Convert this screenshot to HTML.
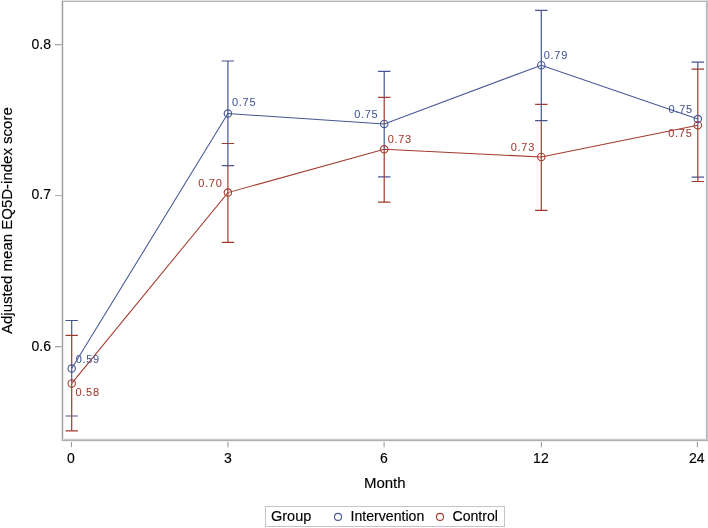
<!DOCTYPE html>
<html><head><meta charset="utf-8">
<style>
html,body{margin:0;padding:0;background:#fff;width:708px;height:528px;overflow:hidden}
svg{display:block;will-change:transform}
text{font-family:"Liberation Sans",sans-serif;fill:#000;stroke:#000;stroke-width:0.15px}
.tk{font-size:14px}
.dl text{font-size:11px;letter-spacing:0.7px;stroke-width:0.05px}
.b{fill:#445694;stroke:#445694}
.r{fill:#A23A2E;stroke:#A23A2E}
</style></head><body>
<svg width="708" height="528" viewBox="0 0 708 528">
<rect x="0" y="0" width="708" height="528" fill="#fff"/>
<g>
<rect x="-5" y="-5" width="720" height="540" fill="#fff"/>
<g fill="none" stroke="#9a9ea2" stroke-width="1.1">
<path d="M71.5 440.5 V447.3 M227.9 440.5 V447.3 M384.1 440.5 V447.3 M541.4 440.5 V447.3 M697.4 440.5 V447.3"/>
</g>
<g class="tk" text-anchor="end">
<text x="51" y="48.8">0.8</text>
<text x="51" y="199.3">0.7</text>
<text x="51" y="350.7">0.6</text>
</g>
<g class="tk" text-anchor="middle">
<text x="70.8" y="462.5">0</text>
<text x="227.8" y="462.5">3</text>
<text x="383.8" y="462.5">6</text>
<text x="540.9" y="462.5">12</text>
<text x="696.8" y="462.5">24</text>
</g>
<text x="384.8" y="487.5" text-anchor="middle" style="font-size:15px">Month</text>
<text transform="translate(11.8,220.6) rotate(-90)" text-anchor="middle" style="font-size:15px">Adjusted mean EQ5D-index score</text>
<g fill="none" stroke-width="1.2">
<path stroke="#445694" d="M65.5 320.5H77.9M65.5 416.0H77.9M221.7 61H234.1M221.7 165.6H234.1M378.0 71.4H390.4M378.0 176.9H390.4M535.1 10.3H547.5M535.1 120.6H547.5M691.6 62.2H704.0M691.6 177.1H704.0"/>
<path stroke="#A23A2E" d="M65.5 335.3H77.9M65.5 430.8H77.9M221.7 143.5H234.1M221.7 242.4H234.1M378.0 97.4H390.4M378.0 202.2H390.4M535.1 104.4H547.5M535.1 210.3H547.5M691.6 69.1H704.0M691.6 181.5H704.0"/>
<path stroke="#445694" d="M71.7 320.5V335.3M71.7 368.6V383.4M227.9 61V165.6M384.2 71.4V97.4M384.2 123.9V149.3M541.3 10.3V120.6M697.8 62.2V69.1M697.8 119.1V125.2"/>
<path stroke="#A23A2E" d="M71.7 335.3V368.6M71.7 383.4V430.8M227.9 165.6V242.4M384.2 97.4V123.9M384.2 149.3V202.2M541.3 120.6V210.3M697.8 69.1V119.1M697.8 125.2V181.5"/>
</g>
<g fill="none" stroke-width="1.05">
<polyline stroke="#445694" points="71.7,368.6 227.9,113.6 384.2,123.9 541.3,65.2 697.8,119.1"/>
<polyline stroke="#A23A2E" points="71.7,383.4 227.9,192.6 384.2,149.3 541.3,157 697.8,125.2"/>
</g>
<g fill="none" stroke-width="1.1">
<g stroke="#445694"><circle cx="71.7" cy="368.6" r="3.7"/><circle cx="227.9" cy="113.6" r="3.7"/><circle cx="384.2" cy="123.9" r="3.7"/><circle cx="541.3" cy="65.2" r="3.7"/><circle cx="697.8" cy="119.1" r="3.7"/></g>
<g stroke="#A23A2E"><circle cx="71.7" cy="383.4" r="3.7"/><circle cx="227.9" cy="192.6" r="3.7"/><circle cx="384.2" cy="149.3" r="3.7"/><circle cx="541.3" cy="157" r="3.7"/><circle cx="697.8" cy="125.2" r="3.7"/></g>
</g>
<g class="dl"><text class="b" x="75.7" y="362.8">0.59</text><text class="b" x="232" y="106.1">0.75</text><text class="b" x="354.2" y="117.8">0.75</text><text class="b" x="543.8" y="59.3">0.79</text><text class="b" x="668.6" y="112.7">0.75</text><text class="r" x="75.5" y="396.0">0.58</text><text class="r" x="198.3" y="186.6">0.70</text><text class="r" x="387.7" y="143.0">0.73</text><text class="r" x="510.8" y="151.3">0.73</text><text class="r" x="668.3" y="137.1">0.75</text></g>
<rect x="265.5" y="506.5" width="239" height="20" fill="none" stroke="#c4c4c4" stroke-width="1"/>
<text x="271" y="520.9" style="font-size:14.5px">Group</text>
<circle cx="338" cy="516.9" r="3.5" fill="none" stroke="#445694" stroke-width="1.1"/>
<text x="350.6" y="520.7" style="font-size:14.1px">Intervention</text>
<circle cx="440" cy="516.9" r="3.5" fill="none" stroke="#A23A2E" stroke-width="1.1"/>
<text x="452.5" y="520.7" style="font-size:14.1px">Control</text>
</g>
<g shape-rendering="crispEdges">
<rect x="62" y="0" width="646" height="1" fill="#dde1e4"/>
<rect x="62" y="1" width="646" height="1" fill="#b4b6ba"/>
<rect x="61" y="1" width="1" height="440" fill="#e2e4e6"/>
<rect x="63" y="2" width="1" height="437" fill="#e9ebeb"/>
<rect x="62" y="1" width="1" height="440" fill="#9ea2a4"/>
<rect x="705" y="2" width="1" height="437" fill="#f3f4f4"/>
<rect x="706" y="1" width="1" height="440" fill="#b8babd"/>
<rect x="707" y="0" width="1" height="441" fill="#c2c6c9"/>
<rect x="63" y="438" width="643" height="1" fill="#f4f4f4"/>
<rect x="62" y="439" width="646" height="1" fill="#c4c6c8"/>
<rect x="62" y="440" width="646" height="1" fill="#aeb1b4"/>
<rect x="62" y="441" width="646" height="1" fill="#f0f0f0"/>
<rect x="55" y="44" width="7" height="1" fill="#aaadb0"/>
<rect x="55" y="45" width="7" height="1" fill="#e4e5e6"/>
<rect x="55" y="195" width="7" height="1" fill="#aaadb0"/>
<rect x="55" y="346" width="7" height="1" fill="#aaadb0"/>
<rect x="55" y="347" width="7" height="1" fill="#e4e5e6"/>
</g>
</svg>
</body></html>
